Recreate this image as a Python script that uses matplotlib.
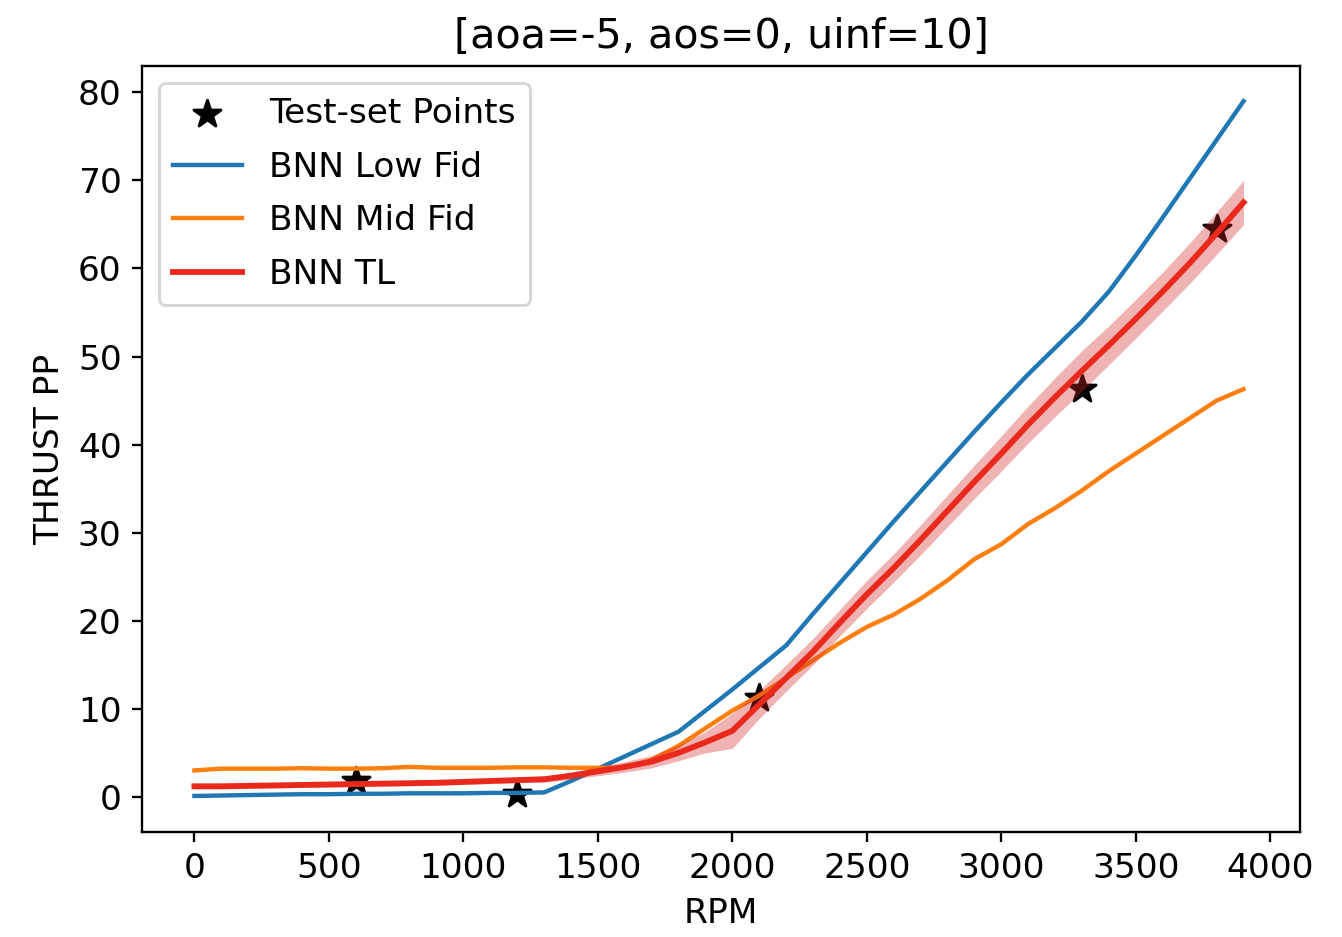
import matplotlib
matplotlib.use("Agg")
import matplotlib.pyplot as plt
import numpy as np

rpm = list(range(0, 4000, 100))

low_fid = [0.1, 0.15, 0.2, 0.25, 0.3, 0.3, 0.35, 0.35, 0.4, 0.4, 0.4, 0.45, 0.45, 0.5,
           1.8, 3.2, 4.6, 6.0, 7.4, 9.8, 12.2, 14.7, 17.2, 20.8, 24.3, 27.8, 31.3, 34.7,
           38.1, 41.5, 44.8, 48.0, 51.0, 54.0, 57.4, 61.5, 65.8, 70.2, 74.6, 79.0]

mid_fid = [3.0, 3.2, 3.2, 3.2, 3.25, 3.2, 3.2, 3.25, 3.4, 3.3, 3.3, 3.3, 3.35, 3.35,
           3.3, 3.3, 3.3, 4.2, 5.8, 7.8, 9.8, 11.5, 13.5, 15.5, 17.5, 19.3, 20.7, 22.5,
           24.6, 27.0, 28.7, 31.0, 32.8, 34.8, 37.0, 39.0, 41.0, 43.0, 45.0, 46.3]

tl_mean = [1.2, 1.2, 1.25, 1.3, 1.35, 1.4, 1.45, 1.5, 1.55, 1.6, 1.7, 1.8, 1.9, 2.0,
           2.4, 2.9, 3.4, 4.0, 5.0, 6.2, 7.5, 10.5, 13.5, 16.5, 19.8, 23.0, 26.0, 29.2,
           32.5, 35.8, 39.0, 42.3, 45.4, 48.4, 51.3, 54.3, 57.4, 60.6, 64.0, 67.5]

tl_std = [0.3, 0.3, 0.3, 0.3, 0.3, 0.3, 0.3, 0.3, 0.3, 0.3, 0.3, 0.3, 0.3, 0.35,
          0.4, 0.5, 0.6, 0.7, 0.9, 1.2, 2.0, 1.6, 1.5, 1.5, 1.5, 1.6, 1.6, 1.7,
          1.8, 1.9, 2.0, 2.1, 2.2, 2.3, 2.2, 2.2, 2.2, 2.3, 2.4, 2.5]

test_rpm = [600, 1200, 2100, 3300, 3800]
test_thrust = [1.8, 0.3, 11.2, 46.3, 64.5]

plt.rcParams['font.size'] = 11.8

fig = plt.figure(figsize=(1342 / 210, 937 / 210), dpi=210)
ax = fig.add_axes([0.1058, 0.112, 0.8629, 0.8176])

ax.scatter(test_rpm, test_thrust, marker='*', s=95, color='black',
           label='Test-set Points', zorder=1)
ax.plot(rpm, low_fid, color='tab:blue', lw=1.5, label='BNN Low Fid', zorder=2)
ax.plot(rpm, mid_fid, color='tab:orange', lw=1.5, label='BNN Mid Fid', zorder=2)
lo = np.array(tl_mean) - np.array(tl_std)
hi = np.array(tl_mean) + np.array(tl_std)
ax.fill_between(rpm, lo, hi, color='tab:red', alpha=0.35, lw=0, zorder=3)
ax.plot(rpm, tl_mean, color='#e8291c', lw=2.0, label='BNN TL', zorder=4)

ax.set_xlim(-195, 4110)
ax.set_ylim(-4, 83)
ax.set_xticks([0, 500, 1000, 1500, 2000, 2500, 3000, 3500, 4000])
ax.set_yticks([0, 10, 20, 30, 40, 50, 60, 70, 80])
ax.set_xlabel('RPM')
ax.set_ylabel('THRUST PP')
ax.set_title('[aoa=-5, aos=0, uinf=10]')
ax.legend(loc='upper left', labelspacing=0.6)

fig.savefig('out.png', dpi=210)
